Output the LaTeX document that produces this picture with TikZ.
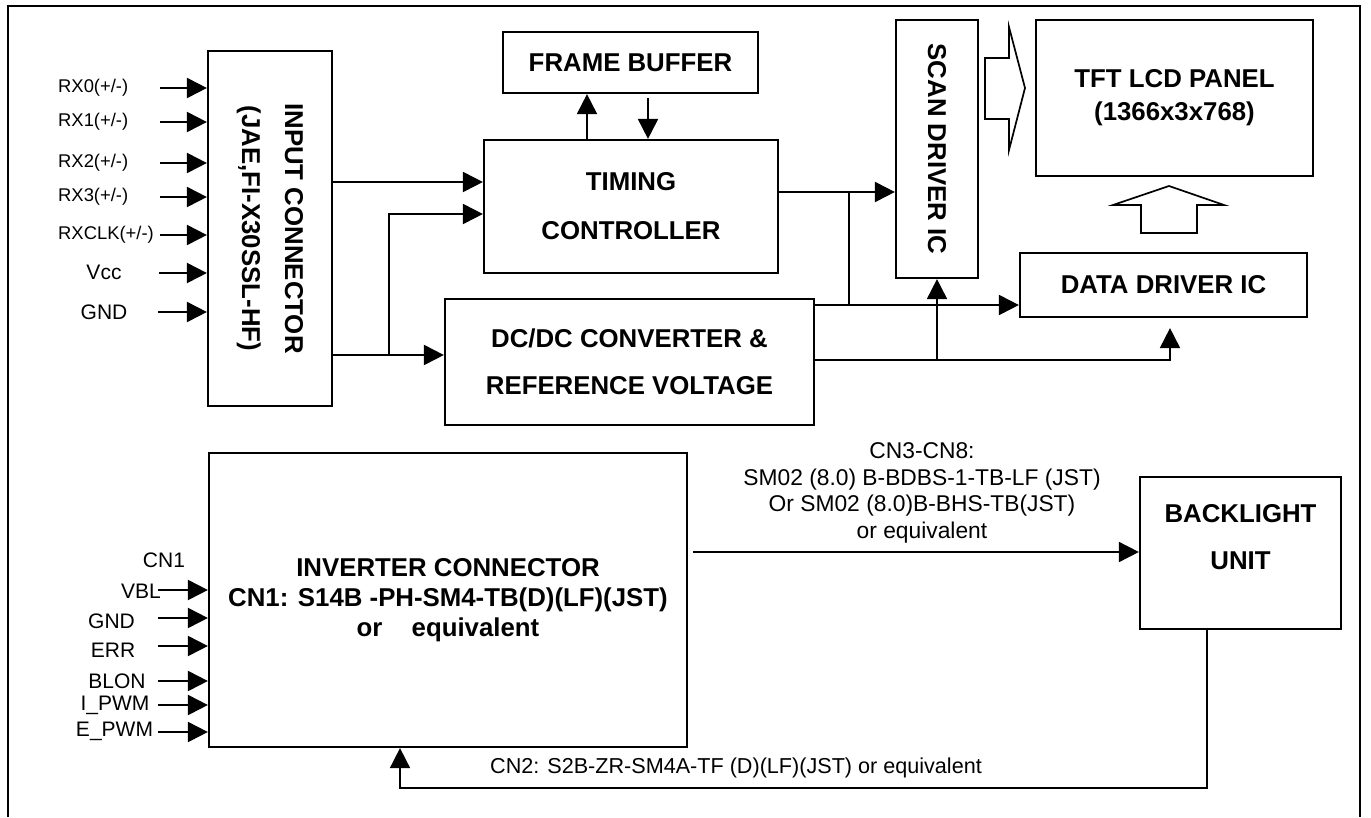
\documentclass[tikz,border=0pt]{standalone}
\usepackage{fontspec}
\setmainfont{Liberation Sans}
\usetikzlibrary{arrows.meta}

\begin{document}
\begin{tikzpicture}[x=1pt,y=-1pt,
  blk/.style={draw, line width=2.2pt, inner sep=0pt, align=center, font=\bfseries\fontsize{25.8}{49}\selectfont},
  txt/.style={inner sep=0pt, align=center, font=\bfseries\fontsize{25.8}{43}\selectfont},
  arr/.style={line width=2pt, -{Triangle[length=20pt,width=20pt]}},
  rxlbl/.style={inner sep=0pt, anchor=west, font=\fontsize{18.4}{22}\selectfont},
  pinlbl/.style={inner sep=0pt, font=\fontsize{21}{25}\selectfont},
  hollow/.style={line width=1.7pt, line join=miter}]
\useasboundingbox (0,0) rectangle (1371,817);
\draw[line width=2pt] (8,817) -- (8,6) -- (1360,6) -- (1360,817);

\node[blk, minimum width=124pt, minimum height=355pt] (inp) at (270,228.5) {};
\node[txt, rotate=-90] (inptxt) at (inp) {INPUT CONNECTOR\\(JAE,FI-X30SSL-HF)};
\node[blk, minimum width=255pt, minimum height=61pt] (fb) at (630.5,62.5) {FRAME BUFFER};
\node[blk, minimum width=294pt, minimum height=133pt] (tc) at (631,206.5) {TIMING\\CONTROLLER};
\node[blk, minimum width=369pt, minimum height=126pt, font=\bfseries\fontsize{25.8}{47}\selectfont] (dc) at (629.5,362) {DC/DC CONVERTER \&\\REFERENCE VOLTAGE};
\node[blk, minimum width=82pt, minimum height=258pt] (scan) at (937,149) {};
\node[txt, rotate=-90] (scantxt) at (scan) {SCAN DRIVER IC};
\node[blk, minimum width=277pt, minimum height=156pt, font=\bfseries\fontsize{25.8}{33}\selectfont] (tft) at (1174.5,98) {TFT LCD PANEL\\(1366x3x768)};
\node[blk, minimum width=287pt, minimum height=64pt] (dd) at (1163.5,285) {DATA DRIVER IC};
\node[blk, minimum width=478pt, minimum height=294pt, font=\bfseries\fontsize{25.8}{30}\selectfont] (inv) at (448,600) {INVERTER CONNECTOR\\CN1: S14B -PH-SM4-TB(D)(LF)(JST)\\or\hspace{22pt} equivalent};
\node[blk, minimum width=201pt, minimum height=152pt] (blu) at (1240.5,553) {};
\node[txt, font=\bfseries\fontsize{25.8}{47}\selectfont] (blutxt) at (1240.5,536.7) {BACKLIGHT\\UNIT};

\foreach \n/\y/\t in {rx0/88/{RX0(+/-)}, rx1/122/{RX1(+/-)}, rx2/163/{RX2(+/-)}, rx3/197/{RX3(+/-)}, rxclk/235/{RXCLK(+/-)}}{
  \node[rxlbl] (\n) at (58,\y) {\t};
  \coordinate (\n-s) at (160,\y);
  \draw[arr] (\n-s) -- (inp.west |- \n-s);
}
\node[pinlbl] (vcc) at (104,272) {Vcc};
\node[pinlbl] (gnd1) at (104,312) {GND};
\coordinate (vcc-s) at (159,273);
\coordinate (gnd1-s) at (158,312);
\draw[arr] (vcc-s) -- (inp.west |- vcc-s);
\draw[arr] (gnd1-s) -- (inp.west |- gnd1-s);

\coordinate (j0) at (400,182);
\coordinate (j1) at (389,355);
\coordinate (j2) at (389,214);
\draw[arr] (inp.east |- j0) -- (tc.west |- j0);
\draw[arr] (inp.east |- j1) -- (dc.west |- j1);
\draw[arr] (j1) -- (j2) -- (tc.west |- j2);
\coordinate (fbup) at (587,100);
\coordinate (fbdn) at (648,100);
\draw[arr] (tc.north -| fbup) -- (fb.south -| fbup);
\draw[arr, shorten <=4pt] (fb.south -| fbdn) -- (tc.north -| fbdn);
\coordinate (j3) at (849,192);
\coordinate (j4) at (849,305);
\draw[arr] (tc.east |- j3) -- (scan.west |- j3);
\draw[line width=2pt] (j3) -- (j4);
\draw[arr] (dc.east |- j4) -- (dd.west |- j4);
\coordinate (j5) at (1170,360);
\draw[arr, shorten >=10pt] (dc.east |- j5) -| (dd.south -| j5);
\draw[arr] (scan.south |- j5) -- (scan.south);

\draw[hollow] (985,58) -- (1009,58) -- (1009,27) -- (1025,88) -- (1009,150) -- (1009,119) -- (985,119) -- cycle;
\draw[hollow] (1141,233) -- (1141,205) -- (1113,205) -- (1169,186) -- (1224,205) -- (1197,205) -- (1197,233) -- cycle;

\node[pinlbl] (cn1) at (164,560.7) {CN1};
\foreach \n/\y/\ly/\x/\t in {vbl/590/591.7/141/VBL, gnd2/618/621.7/111.5/GND, err/646/650/113/ERR, blon/681/681/117/BLON, ipwm/705/705/115/I\_PWM, epwm/732/731.7/114.5/E\_PWM}{
  \node[pinlbl] (\n) at (\x,\ly) {\t};
  \coordinate (\n-s) at (158,\y);
  \draw[arr] (\n-s) -- (inv.west |- \n-s);
}

\coordinate (j7) at (692,552);
\draw[arr, line width=1.7pt, shorten <=5pt] (inv.east |- j7) -- (blu.west |- j7);
\node[inner sep=0pt, align=center, font=\fontsize{22.8}{26.7}\selectfont] (cn3) at (922,493) {CN3-CN8:\\SM02 (8.0) B-BDBS-1-TB-LF (JST)\\Or SM02 (8.0)B-BHS-TB(JST)\\or equivalent};
\coordinate (j8) at (1207,788);
\coordinate (j9) at (400,788);
\draw[arr, line width=1.7pt] (blu.south -| j8) -- (j8) -- (j9) -- (inv.south -| j9);
\node[inner sep=0pt, font=\fontsize{21.6}{26}\selectfont] (cn2) at (736,768) {CN2: S2B-ZR-SM4A-TF (D)(LF)(JST) or equivalent};
\end{tikzpicture}
\end{document}
